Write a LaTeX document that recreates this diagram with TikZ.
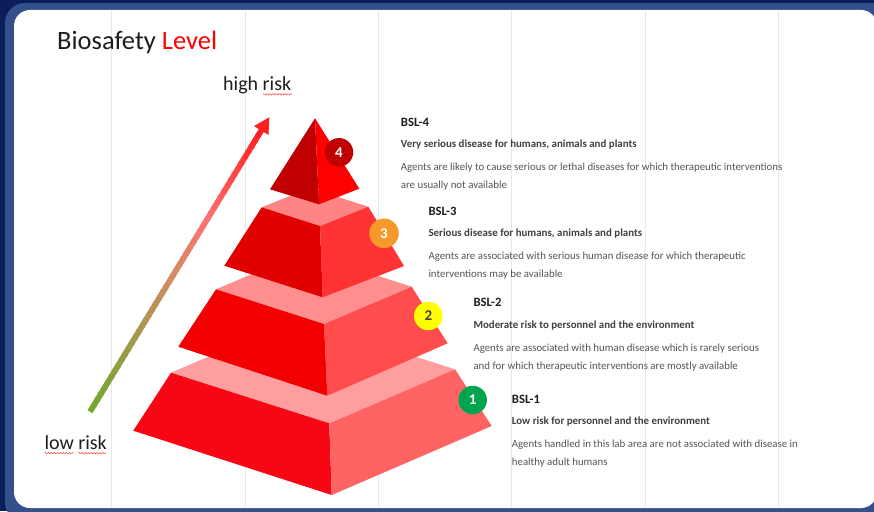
\documentclass[tikz,border=0pt]{standalone}
\usepackage{fontspec}
\setmainfont{Carlito}
\usetikzlibrary{calc,decorations.pathmorphing}
\definecolor{navy}{HTML}{0B1D5A}
\definecolor{bandblue}{HTML}{34508A}
\definecolor{gridgray}{HTML}{E8E8E8}
\definecolor{txtdark}{HTML}{1E1E1E}
\definecolor{txtsub}{HTML}{404040}
\definecolor{txtdesc}{HTML}{555555}
\definecolor{argreen}{HTML}{70A830}
\definecolor{artan}{HTML}{D88A68}
\definecolor{arpink}{HTML}{FF7070}
\definecolor{arred}{HTML}{FF1E1E}
\definecolor{topL}{HTML}{C00000}
\definecolor{topR}{HTML}{FF0000}
\definecolor{t3L}{HTML}{E00000}
\definecolor{t3R}{HTML}{FF3333}
\definecolor{t3T}{HTML}{FF8585}
\definecolor{t2L}{HTML}{F20000}
\definecolor{t2R}{HTML}{FF4D4D}
\definecolor{t2T}{HTML}{FF8F8F}
\definecolor{t1L}{HTML}{F70614}
\definecolor{t1R}{HTML}{FF6464}
\definecolor{t1T}{HTML}{FF9E9E}
\definecolor{c4col}{HTML}{C00000}
\definecolor{c3col}{HTML}{F7982A}
\definecolor{c2col}{HTML}{FFFF00}
\definecolor{c1col}{HTML}{00A64F}
\begin{document}
\begin{tikzpicture}[x=1pt,y=-1pt,
  risklabel/.style={anchor=base west,inner sep=0pt,text=txtdark,font=\fontsize{20}{24}\selectfont},
  squig/.style={draw=red!75,line width=0.5pt,decorate,decoration={snake,segment length=3pt,amplitude=0.7pt}},
  bslhead/.style={anchor=base west,inner sep=0pt,text=txtdark,font=\fontsize{12.7}{15}\selectfont\bfseries},
  bslsub/.style={anchor=base west,inner sep=0pt,text=txtsub,font=\fontsize{10.9}{13}\selectfont\bfseries},
  bsldesc/.style={anchor=base west,inner sep=0pt,text=txtdesc,font=\fontsize{10.85}{13}\selectfont},
  numdot/.style={circle,inner sep=0pt,minimum size=28.5pt,font=\fontsize{15}{17}\selectfont\bfseries}]
\useasboundingbox (0,0) rectangle (874,511);
% background
\fill[navy] (0,0) rectangle (874,511);
\fill[bandblue,rounded corners=20pt] (5,3) rectangle (892,522);
\fill[white,rounded corners=16pt] (14,10) rectangle (877,508);
\foreach \gx in {111.7,245,378.4,511.8,645.2,778.6}
  \draw[gridgray,line width=1pt] (\gx,10) -- (\gx,508);
% title
\node[anchor=base west,inner sep=0pt,text=txtdark,font=\fontsize{26.5}{30}\selectfont] (title) at (57,49.3) {Biosafety \textcolor{red}{Level}};
% risk labels
\node[risklabel] (high) at (223,90.5) {high risk};
\node[risklabel] (low) at (44.3,449.5) {low risk};
\draw[squig] (263,94.3) -- (292,94.3);
\draw[squig] (44.5,453.2) -- (73.5,453.2);
\draw[squig] (78,453.2) -- (106,453.2);
% gradient arrow
\coordinate (arlo) at (90,411.7);
\coordinate (artip) at (269.3,117.3);
\coordinate (arbase) at ($(artip)!15.5pt!(arlo)$);
\foreach \i in {0,...,49} {
  \pgfmathsetmacro\ta{\i/50}
  \pgfmathsetmacro\tb{(\i+1.4)/50}
  \ifnum\i<25
    \pgfmathtruncatemacro\pc{\i*4}
    \edef\segcol{artan!\pc!argreen}
  \else\ifnum\i<34
    \pgfmathtruncatemacro\pc{(\i-25)*11}
    \edef\segcol{arpink!\pc!artan}
  \else
    \pgfmathtruncatemacro\pc{(\i-34)*6.6}
    \edef\segcol{arred!\pc!arpink}
  \fi\fi
  \draw[line width=5.7pt,color=\segcol] ($(arlo)!\ta!(arbase)$) -- ($(arlo)!\tb!(arbase)$);
}
\fill[arred] (artip) -- ($(arbase)!8.5pt!90:(artip)$) -- ($(arbase)!8.5pt!-90:(artip)$) -- cycle;
% tier 1
\coordinate (T1L) at (171,372.7); \coordinate (T1F) at (329.3,423.3);
\coordinate (T1R) at (455,369.3); \coordinate (T1B) at (296.7,318.7);
\coordinate (B1L) at (133.3,430.7); \coordinate (B1F) at (331.7,495);
\coordinate (B1R) at (491.7,426);
\fill[t1T] (T1L) -- (T1F) -- (T1R) -- (T1B) -- cycle;
\fill[t1L] (T1L) -- (T1F) -- (B1F) -- (B1L) -- cycle;
\fill[t1R] (T1F) -- (T1R) -- (B1R) -- (B1F) -- cycle;
% tier 2
\coordinate (T2L) at (216,289.3); \coordinate (T2F) at (324,324);
\coordinate (T2R) at (411.7,286.7); \coordinate (T2B) at (303.7,252);
\coordinate (B2L) at (178.3,346.7); \coordinate (B2F) at (327.3,395.7);
\coordinate (B2R) at (447.7,343.3);
\fill[t2T] (T2L) -- (T2F) -- (T2R) -- (T2B) -- cycle;
\fill[t2L] (T2L) -- (T2F) -- (B2F) -- (B2L) -- cycle;
\fill[t2R] (T2F) -- (T2R) -- (B2R) -- (B2F) -- cycle;
% tier 3
\coordinate (T3L) at (261.7,207.3); \coordinate (T3F) at (320,226);
\coordinate (T3R) at (368.3,206.7); \coordinate (T3B) at (310,188);
\coordinate (B3L) at (224.3,265.7); \coordinate (B3F) at (322.7,297.3);
\coordinate (B3R) at (404,266);
\fill[t3T] (T3L) -- (T3F) -- (T3R) -- (T3B) -- cycle;
\fill[t3L] (T3L) -- (T3F) -- (B3F) -- (B3L) -- cycle;
\fill[t3R] (T3F) -- (T3R) -- (B3R) -- (B3F) -- cycle;
% top pyramid
\coordinate (PA) at (315,118.3); \coordinate (PL) at (270,189.3);
\coordinate (PF) at (319,204.3); \coordinate (PR) at (359.3,188.7);
\fill[topL] (PA) -- (PL) -- (PF) -- cycle;
\fill[topR] (PA) -- (PF) -- (PR) -- cycle;
% number dots
\node[numdot,fill=c4col,text=white] (n4) at (339,152.3) {4};
\node[numdot,fill=c3col,text=white,minimum size=29.5pt] (n3) at (384,233.3) {3};
\node[numdot,fill=c2col,text=txtsub] (n2) at (428.3,316) {2};
\node[numdot,fill=c1col,text=white] (n1) at (472.7,400) {1};
% BSL-4
\node[bslhead] (h4) at (400.7,126) {BSL-4};
\node[bslsub] (s4) at (400.7,147.5) {Very serious disease for humans, animals and plants};
\node[bsldesc] (d4a) at (400.7,170.5) {Agents are likely to cause serious or lethal diseases for which therapeutic interventions};
\node[bsldesc] (d4b) at (400.7,188.5) {are usually not available};
% BSL-3
\node[bslhead] (h3) at (428.3,215) {BSL-3};
\node[bslsub] (s3) at (428.3,236.5) {Serious disease for humans, animals and plants};
\node[bsldesc] (d3a) at (428.3,259.5) {Agents are associated with serious human disease for which therapeutic};
\node[bsldesc] (d3b) at (428.3,277.5) {interventions may be available};
% BSL-2
\node[bslhead] (h2) at (473.3,306.5) {BSL-2};
\node[bslsub] (s2) at (473.3,328) {Moderate risk to personnel and the environment};
\node[bsldesc] (d2a) at (473.3,351) {Agents are associated with human disease which is rarely serious};
\node[bsldesc] (d2b) at (473.3,369) {and for which therapeutic interventions are mostly available};
% BSL-1
\node[bslhead] (h1) at (511.7,403) {BSL-1};
\node[bslsub] (s1) at (511.7,424.5) {Low risk for personnel and the environment};
\node[bsldesc] (d1a) at (511.7,447.5) {Agents handled in this lab area are not associated with disease in};
\node[bsldesc] (d1b) at (511.7,465.5) {healthy adult humans};
\end{tikzpicture}
\end{document}
